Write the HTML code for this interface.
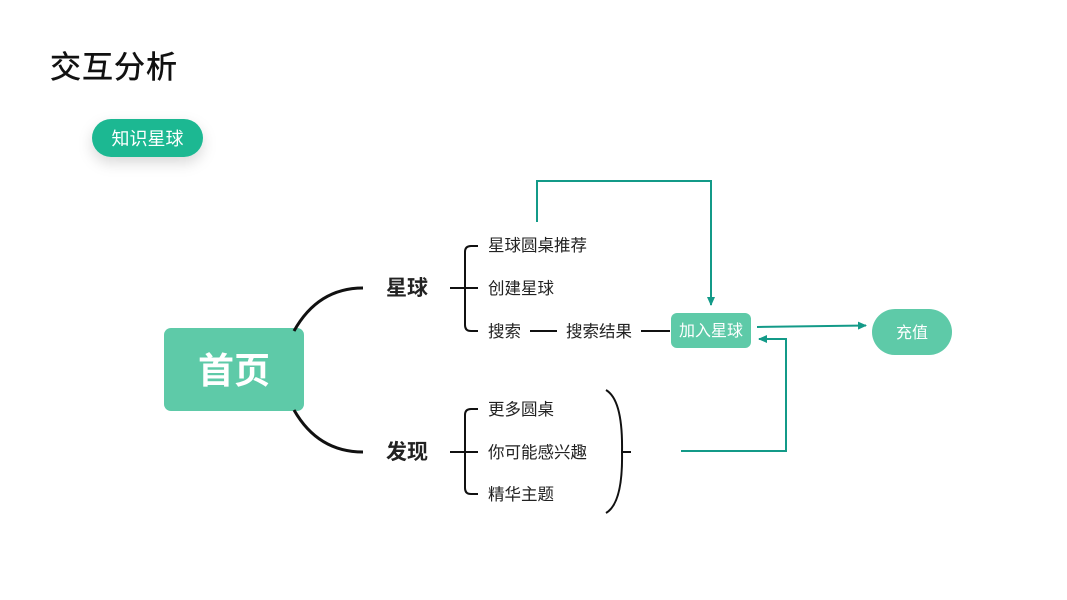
<!DOCTYPE html>
<html><head><meta charset="utf-8"><style>
html,body{margin:0;padding:0;background:#fff;}
svg{display:block;}
text{font-family:"Liberation Sans","Noto Sans CJK SC",sans-serif;}
</style></head><body>
<svg width="1067" height="600" viewBox="0 0 1067 600" xmlns="http://www.w3.org/2000/svg">
<defs>
<filter id="sh" x="-50%" y="-50%" width="200%" height="250%"><feDropShadow dx="0" dy="6" stdDeviation="7" flood-color="#000" flood-opacity="0.15"/></filter>
<marker id="ar" markerWidth="10" markerHeight="10" refX="8" refY="5" orient="auto" markerUnits="userSpaceOnUse"><path d="M0,1 L9,5 L0,9 z" fill="#139a88"/></marker>
</defs>
<text x="50" y="78" font-size="31" fill="#111" letter-spacing="1" stroke="#111" stroke-width="0.5">交互分析</text>
<rect x="92" y="119" width="111" height="38" rx="19" fill="#1cb892" filter="url(#sh)"/>
<text x="147.5" y="145" font-size="18" fill="#fff" text-anchor="middle">知识星球</text>

<rect x="164" y="328" width="140" height="83" rx="7" fill="#5ecaa8"/>
<text x="234" y="383" font-size="36" font-weight="bold" fill="#fff" text-anchor="middle">首页</text>

<g fill="none" stroke="#111" stroke-width="3">
<path d="M294,331 Q318,288 363,288"/>
<path d="M294,410 Q318,452 363,452"/>
</g>
<text x="386" y="295" font-size="21" font-weight="bold" fill="#222">星球</text>
<text x="386" y="459" font-size="21" font-weight="bold" fill="#222">发现</text>

<g fill="none" stroke="#111" stroke-width="2">
<path d="M450,288 H478"/>
<path d="M478,246 H471 Q465,246 465,252 V325 Q465,331 471,331 H478"/>
<path d="M450,452 H478"/>
<path d="M478,409 H471 Q465,409 465,415 V488 Q465,494 471,494 H478"/>
<path d="M530,331 H557"/>
<path d="M641,331 H670"/>
<path d="M606,390 Q623,400 622,452 Q623,503 606,513"/>
<path d="M622,452 H631"/>
</g>
<g font-size="16.5" fill="#222">
<text x="488" y="251">星球圆桌推荐</text>
<text x="488" y="294">创建星球</text>
<text x="488" y="337">搜索</text>
<text x="566" y="337">搜索结果</text>
<text x="488" y="415">更多圆桌</text>
<text x="488" y="458">你可能感兴趣</text>
<text x="488" y="500">精华主题</text>
</g>

<rect x="671" y="313" width="80" height="35" rx="6" fill="#5ecaa8"/>
<text x="711" y="336" font-size="16" fill="#fff" text-anchor="middle">加入星球</text>
<rect x="872" y="309" width="80" height="46" rx="23" fill="#5ecaa8"/>
<text x="912" y="338" font-size="16" fill="#fff" text-anchor="middle">充值</text>

<g fill="none" stroke="#139a88" stroke-width="2">
<path d="M537,222 V181 H711 V305" marker-end="url(#ar)"/>
<path d="M757,327 L866,325.5" marker-end="url(#ar)"/>
<path d="M681,451 H786 V339 H759" marker-end="url(#ar)"/>
</g>
</svg>
</body></html>
